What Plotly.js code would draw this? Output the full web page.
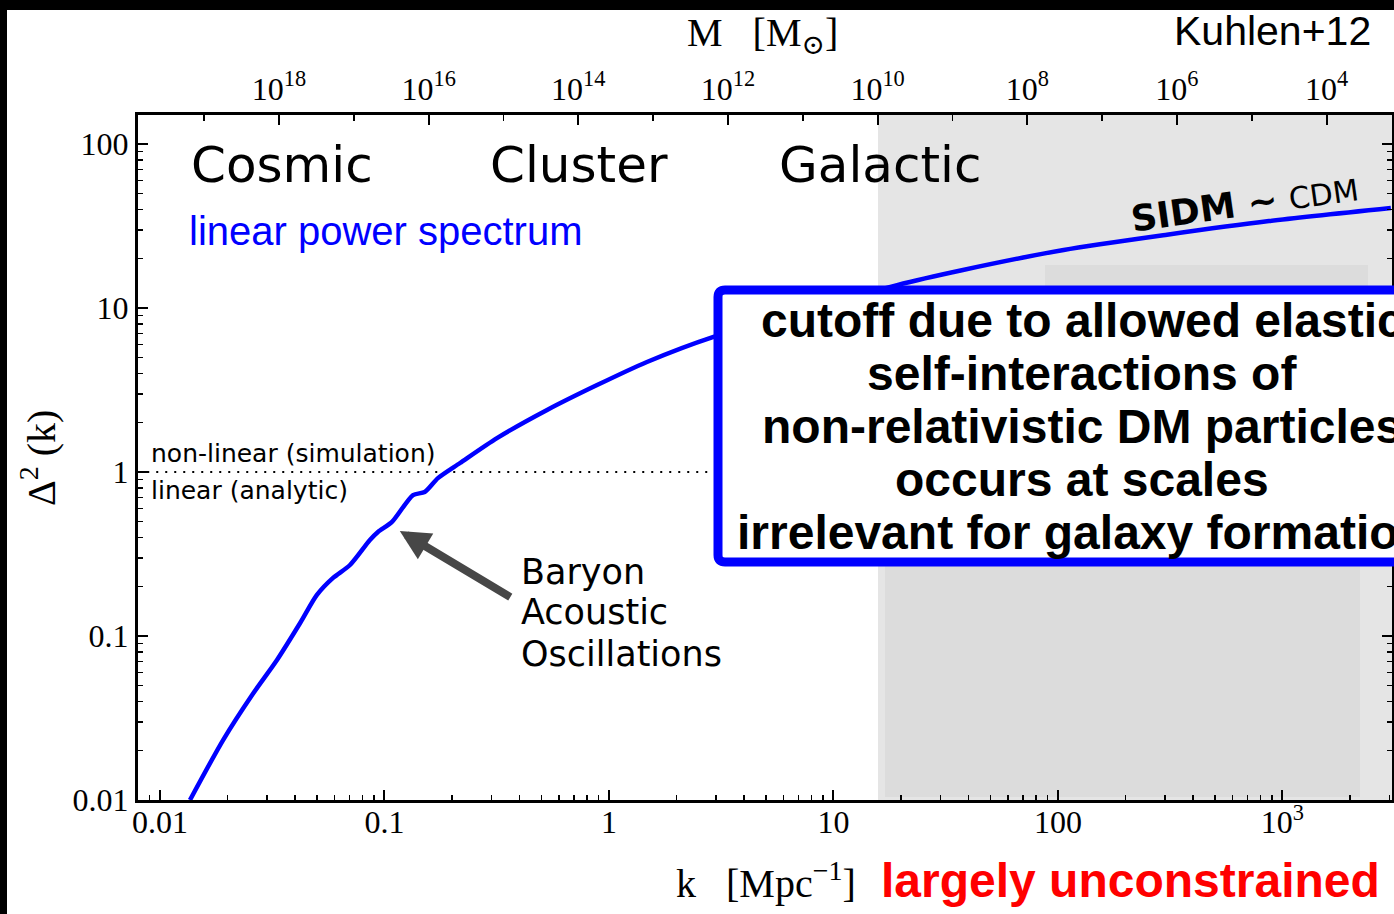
<!DOCTYPE html>
<html><head><meta charset="utf-8">
<script src="https://cdn.plot.ly/plotly-3.0.1.min.js"></script>
<style>
html,body{margin:0;padding:0;background:#000;width:1394px;height:914px;overflow:hidden;}
#chart{position:absolute;left:7px;top:10px;width:1387px;height:904px;background:#fff;}
</style></head><body><div id="chart"></div>
<script>
// ---- data ----
const kValues     = [0.0136, 0.0191, 0.0259, 0.0332, 0.0421, 0.0500, 0.0590, 0.0702, 0.0861, 0.0935, 0.108, 0.134, 0.151, 0.173, 0.217, 0.317, 0.530, 0.885, 1.476, 2.90, 19.2, 37.3, 106, 306, 871, 3040];
const deltaValues = [0.0100, 0.0232, 0.0443, 0.0714, 0.120, 0.178, 0.226, 0.271, 0.385, 0.431, 0.496, 0.724, 0.755, 0.918, 1.135, 1.61, 2.39, 3.39, 4.69, 6.65, 13.8, 17.0, 22.6, 28.0, 33.9, 40.7];
const thresholdK = [0.008, 20];
const thresholdDelta = [1, 1];
const kTickVals = [0.01, 0.1, 1, 10, 100, 1000];
const kTickText = ['0.01', '0.1', '1', '10', '100', '10<sup>3</sup>'];
const deltaTickVals = [0.01, 0.1, 1, 10, 100];
const deltaTickText = ['0.01', '0.1', '1', '10', '100'];
const massTickVals = [1e18, 1e16, 1e14, 1e12, 1e10, 1e8, 1e6, 1e4];
const massTickText = ['10<sup>18</sup>', '10<sup>16</sup>', '10<sup>14</sup>', '10<sup>12</sup>', '10<sup>10</sup>', '10<sup>8</sup>', '10<sup>6</sup>', '10<sup>4</sup>'];
const massMinorVals = [1e19, 1e17, 1e15, 1e13, 1e11, 1e9, 1e7, 1e5, 1e3];

// ---- layout helpers (page pixel -> paper) ----
const L = 138, R = 1392, T = 115, B = 800, OX = 7, OY = 10;
const W = 1387, H = 904;
const px = x => (x - L) / (R - L);
const py = y => (B - y) / (B - T);

function minorTicks(d0, d1) {
  const out = [];
  for (let d = d0; d <= d1; d++) for (let m = 2; m <= 9; m++) out.push(m * Math.pow(10, d));
  return out;
}

const serif = 'Liberation Serif, DejaVu Serif, serif';
const dsans = 'DejaVu Sans, sans-serif';
const lsans = 'Liberation Sans, Arial, sans-serif';

const traces = [
  { x: thresholdK, y: thresholdDelta, mode: 'lines', line: { color: '#000', width: 2, dash: '2px,7px' }, hoverinfo: 'skip', showlegend: false },
  { x: kValues, y: deltaValues, mode: 'lines', line: { color: '#0000ff', width: 4.5, shape: 'spline', smoothing: 0.7 }, showlegend: false },
  { x: massTickVals, y: massTickVals.map(() => 1), xaxis: 'x2', yaxis: 'y', mode: 'markers', marker: { opacity: 0 }, hoverinfo: 'skip', showlegend: false }
];

function ann(text, x, y, size, family, opts) {
  return Object.assign({ text: text, xref: 'paper', yref: 'paper', x: px(x), y: py(y), showarrow: false,
    xanchor: 'center', yanchor: 'middle', font: { size: size, family: family, color: '#000' } }, opts || {});
}

// rounded box path in paper coords
function roundRect(x0, y0, x1, y1, r) {
  const X = v => px(v).toFixed(5), Y = v => py(v).toFixed(5);
  return 'M ' + X(x0 + r) + ' ' + Y(y0) + ' L ' + X(x1 - r) + ' ' + Y(y0) +
    ' Q ' + X(x1) + ' ' + Y(y0) + ' ' + X(x1) + ' ' + Y(y0 + r) +
    ' L ' + X(x1) + ' ' + Y(y1 - r) + ' Q ' + X(x1) + ' ' + Y(y1) + ' ' + X(x1 - r) + ' ' + Y(y1) +
    ' L ' + X(x0 + r) + ' ' + Y(y1) + ' Q ' + X(x0) + ' ' + Y(y1) + ' ' + X(x0) + ' ' + Y(y1 - r) +
    ' L ' + X(x0) + ' ' + Y(y0 + r) + ' Q ' + X(x0) + ' ' + Y(y0) + ' ' + X(x0 + r) + ' ' + Y(y0) + ' Z';
}

const boxLines = ['cutoff due to allowed elastic', 'self-interactions of', 'non-relativistic DM particles', 'occurs at scales', 'irrelevant for galaxy formation'];
const boxLineY = [320, 373, 426, 479, 532];

const annotations = [
  ann('Cosmic', 189, 165, 50, dsans, { xanchor: 'left' }),
  ann('Cluster', 488, 165, 50, dsans, { xanchor: 'left' }),
  ann('Galactic', 777, 165, 50, dsans, { xanchor: 'left' }),
  ann('linear power spectrum', 187, 231, 40, lsans, { xanchor: 'left', font: { size: 40, family: lsans, color: '#0000ff' } }),
  ann('non-linear (simulation)', 149, 453, 25, dsans, { xanchor: 'left' }),
  ann('linear (analytic)', 149, 490, 25, dsans, { xanchor: 'left' }),
  ann('Baryon', 519, 572, 35, dsans, { xanchor: 'left' }),
  ann('Acoustic', 519, 612, 35, dsans, { xanchor: 'left' }),
  ann('Oscillations', 519, 654, 35, dsans, { xanchor: 'left' }),
  { text: '', xref: 'x', yref: 'y', x: Math.log10(0.117), y: Math.log10(0.437), showarrow: true, ax: 112, ay: 67,
    arrowcolor: '#474747', arrowwidth: 8, arrowhead: 2, arrowsize: 0.75, standoff: 0 },
  ann('<b>SIDM ~</b> <span style="font-size:30px">CDM</span>', 1244, 203, 36, dsans, { textangle: -8 }),
  ann('Kuhlen+12', 1272, 31, 41, lsans),
  ann('M&nbsp;&nbsp;&nbsp;[M<sub>⊙</sub>]', 762, 35, 40, serif),
  ann('k&nbsp;&nbsp;&nbsp;[Mpc<sup>−1</sup>]', 766, 880, 40, serif),
  ann('Δ<sup>2</sup> (k)', 38, 458, 40, serif, { textangle: -90 }),
  ann('<b>largely unconstrained</b>', 1130, 880, 48, lsans, { font: { size: 48, family: lsans, color: '#ff0000' } })
];
boxLines.forEach((t, i) => annotations.push(ann('<b>' + t + '</b>', 1082, boxLineY[i], 48, lsans)));

const shapes = [
  { type: 'rect', xref: 'paper', yref: 'paper', x0: px(878), x1: 1, y0: 0, y1: 1, fillcolor: '#e5e5e5', line: { width: 0 }, layer: 'below' },
  { type: 'rect', xref: 'paper', yref: 'paper', x0: px(885), x1: px(1360), y0: py(797), y1: py(565), fillcolor: '#dcdcdc', line: { width: 0 }, layer: 'below' },
  { type: 'rect', xref: 'paper', yref: 'paper', x0: px(1045), x1: px(1368), y0: py(290), y1: py(265), fillcolor: '#dcdcdc', line: { width: 0 }, layer: 'below' },
  { type: 'path', xref: 'paper', yref: 'paper', path: roundRect(718, 290, 1430, 562, 7), fillcolor: '#ffffff', line: { color: '#0000ff', width: 9 }, layer: 'above' }
];

const layout = {
  width: W, height: H,
  margin: { l: L - OX, r: W - (R - OX), t: T - OY, b: H - (B - OY), pad: 0 },
  paper_bgcolor: '#ffffff', plot_bgcolor: '#ffffff',
  showlegend: false,
  xaxis: {
    type: 'log', range: [-2.098, 3.488], showgrid: false, zeroline: false,
    showline: true, linecolor: '#000', linewidth: 3, mirror: true,
    ticks: 'inside', ticklen: 10, tickwidth: 2, tickcolor: '#000',
    tickvals: kTickVals, ticktext: kTickText, ticklabelstandoff: -8,
    tickfont: { family: serif, size: 32, color: '#000' },
    minor: { tickvals: minorTicks(-3, 3), ticks: 'inside', ticklen: 5, tickwidth: 1.5, tickcolor: '#000', showgrid: false }
  },
  xaxis2: {
    type: 'log', overlaying: 'x', side: 'top', anchor: 'y', range: [19.884, 3.126],
    showgrid: false, zeroline: false, showline: false,
    ticks: 'inside', ticklen: 10, tickwidth: 2, tickcolor: '#000',
    tickvals: massTickVals, ticktext: massTickText, ticklabelstandoff: 8,
    tickfont: { family: serif, size: 32, color: '#000' },
    minor: { tickvals: massMinorVals, ticks: 'inside', ticklen: 6, tickwidth: 1.5, tickcolor: '#000', showgrid: false }
  },
  yaxis: {
    type: 'log', range: [-2.0, 2.177], showgrid: false, zeroline: false,
    showline: true, linecolor: '#000', linewidth: 3, mirror: 'ticks',
    ticks: 'inside', ticklen: 10, tickwidth: 2, tickcolor: '#000',
    tickvals: deltaTickVals, ticktext: deltaTickText, ticklabelstandoff: 0,
    tickfont: { family: serif, size: 32, color: '#000' },
    minor: { tickvals: minorTicks(-3, 2), ticks: 'inside', ticklen: 5, tickwidth: 1.5, tickcolor: '#000', showgrid: false }
  },
  shapes: shapes,
  annotations: annotations
};

Plotly.newPlot('chart', traces, layout, { displayModeBar: false, staticPlot: true });
</script></body></html>
